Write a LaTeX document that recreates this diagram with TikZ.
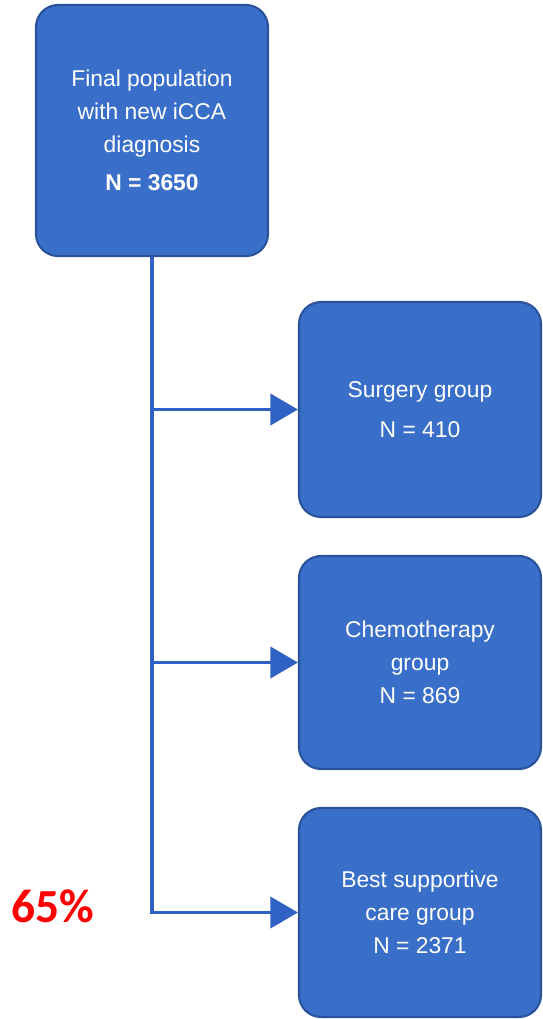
\documentclass[tikz,border=0pt]{standalone}
\usepackage{fontspec}
\setmainfont{Liberation Sans}
\newfontfamily\carlito{Carlito}
\usepackage{xcolor}
\usepackage{tikz}
\usetikzlibrary{arrows.meta}
\usetikzlibrary{positioning}

\definecolor{cajaazul}{HTML}{3A6FC9}
\definecolor{bordeazul}{HTML}{2A519B}
\definecolor{lineaazul}{HTML}{2F62C2}

\begin{document}
\begin{tikzpicture}
\tikzstyle{caja}=[
    rectangle,
    rounded corners=0.44cm,
    draw=bordeazul,
    line width=1.2pt,
    fill=cajaazul,
    text=white,
    align=center,
    inner sep=0pt,
    font=\fontsize{13}{18.8}\selectfont % Texto de caja
]
\tikzstyle{flecha}=[-{Triangle[length=0.55cm,width=0.62cm]}, line width=2.2pt, lineaazul]

\useasboundingbox (0,0) rectangle (10.86,-20.38);

% Nodos
\node[caja, minimum width=4.64cm, minimum height=5.02cm] (pob) at (3.04,-2.61)
    {Final population\\with new iCCA\\diagnosis\\[3pt]\textbf{N = 3650}};
\node[caja, minimum width=4.84cm, minimum height=4.3cm] (cir) at (8.4,-8.19)
    {Surgery group\\[4pt]N = 410};
\node[caja, minimum width=4.84cm, minimum height=4.26cm] (qui) at (8.4,-13.25)
    {Chemotherapy\\group\\N = 869};
\node[caja, minimum width=4.84cm, minimum height=4.18cm] (bsc) at (8.4,-18.25)
    {Best supportive\\care group\\N = 2371};
\node[text=red, font=\carlito\bfseries\fontsize{27}{30}\selectfont] (pct) at (1.05,-18.12) {65\%};

% Ramas
\coordinate (r1) at (pob.south |- cir.west);
\coordinate (r2) at (pob.south |- qui.west);

% Flechas
\draw[flecha] (pob.south) |- (bsc.west);
\draw[flecha] (r1) -- (cir.west);
\draw[flecha] (r2) -- (qui.west);

\end{tikzpicture}
\end{document}
